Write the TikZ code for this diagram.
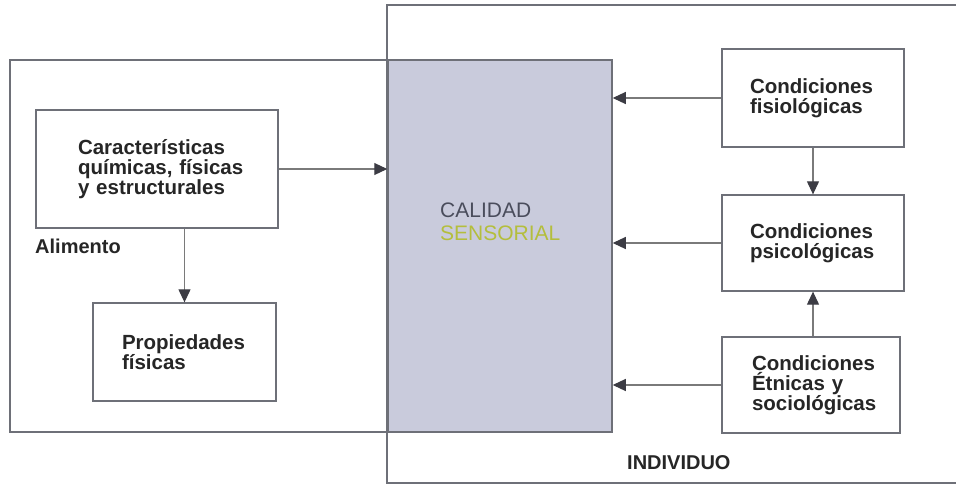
\documentclass[tikz,border=0pt]{standalone}
\usepackage{fontspec}
\setmainfont{Liberation Sans}
\usetikzlibrary{arrows.meta}
\definecolor{edge}{HTML}{6E7078}
\definecolor{grayfill}{HTML}{C9CBDC}
\definecolor{txt}{HTML}{262626}
\definecolor{caltxt}{HTML}{4A4D5C}
\definecolor{sensor}{HTML}{B4BE3C}
\definecolor{arr}{HTML}{7A7A7A}
\definecolor{tip}{HTML}{3C3C44}
\tikzset{
  boxnode/.style n args={3}{draw=edge, line width=1.3pt, fill=white, rectangle,
    minimum width=#1pt, minimum height=#2pt, inner xsep=#3pt, inner ysep=0pt,
    text width={#1pt-2*#3pt}, align=left, text=txt,
    font=\bfseries\fontsize{20.5}{20}\selectfont},
  conn/.style={draw=arr, line width=1.1pt,
    -{Triangle[length=13pt,width=12pt,color=tip]}},
  lbl/.style={text=txt, inner sep=0pt, anchor=base west, font=\bfseries\fontsize{20}{20}\selectfont}
}
\begin{document}
\begin{tikzpicture}[x=1pt,y=-1pt]
\useasboundingbox (0,0) rectangle (956,485);
% Individuo frame (open on the right, runs off the picture)
\begin{scope}
\clip (0,0) rectangle (956,485);
\draw[edge, line width=1.5pt] (970,5) -- (387,5) -- (387,483) -- (970,483);
\end{scope}
% Alimento frame
\node[draw=edge, line width=1.5pt, minimum width=602pt, minimum height=372pt, inner sep=0pt] (alim) at (311,246) {};
% overlap region
\node[draw=edge, line width=1.5pt, fill=grayfill, minimum width=224pt, minimum height=372pt, inner sep=0pt] (cal) at (500,246) {};
\node[inner sep=0pt, anchor=north west, align=left, font=\fontsize{21}{23}\selectfont] (caltext) at (440,203)
  {\textcolor{caltxt}{CALIDAD}\\\textcolor{sensor}{SENSORIAL}};
% boxes
\node[boxnode={242}{118}{42}] (car) at (157,169) {\mbox{Características}\\\mbox{químicas, físicas}\\\mbox{y estructurales}};
\node[boxnode={183}{98}{29}] (prop) at (184.5,352) {\mbox{Propiedades}\\\mbox{físicas}};
\node[boxnode={182}{98}{28}] (fis) at (813,98) {\mbox{Condiciones}\\\mbox{fisiológicas}};
\node[boxnode={182}{96}{28}] (psi) at (813,243) {\mbox{Condiciones}\\\mbox{psicológicas}};
\node[boxnode={178}{96}{30}] (etn) at (811,385) {\mbox{Condiciones}\\\mbox{Étnicas y}\\\mbox{sociológicas}};
% labels
\node[lbl] (alimlbl) at (35,253) {Alimento};
\node[lbl] (indlbl) at (627,469) {INDIVIDUO};
% connectors
\draw[conn] (car.east) -- (car.east -| cal.west);
\draw[conn] (prop.north |- car.south) -- (prop.north);
\draw[conn] (fis.west) -- (fis.west -| cal.east);
\draw[conn] (psi.west) -- (psi.west -| cal.east);
\draw[conn] (etn.west) -- (etn.west -| cal.east);
\draw[conn] (fis.south) -- (psi.north);
\draw[conn] (psi.south |- etn.north) -- (psi.south);
\end{tikzpicture}
\end{document}
